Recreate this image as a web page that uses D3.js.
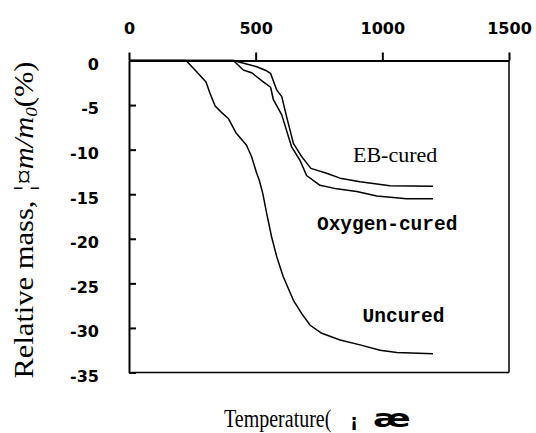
<!DOCTYPE html>
<html>
<head>
<meta charset="utf-8">
<script src="https://cdn.jsdelivr.net/npm/d3@7"></script>
<style>
  body { margin: 0; background: #fff; }
  svg { display: block; }
</style>
</head>
<body>
<div id="chart"></div>
<script>
// 温度 (℃) と質量変化 (%)
var uncuredT = [0, 225, 267, 304, 320, 340, 366, 392, 405, 422, 464, 484, 504, 514, 528, 543, 563, 583, 609, 649, 682, 715, 761, 833, 912, 991, 1057, 1200];
var uncuredM = [0, 0, -1.25, -2.4, -3.7, -5.1, -5.85, -6.5, -7.2, -8.1, -9.5, -10.8, -12.65, -13.4, -14.9, -17.1, -19.8, -22.0, -24.25, -26.9, -28.4, -29.7, -30.6, -31.35, -31.9, -32.5, -32.75, -32.9];

var oxygenT = [0, 412, 451, 484, 530, 559, 570, 603, 642, 675, 701, 754, 820, 899, 978, 1096, 1200];
var oxygenM = [0, 0, -1.07, -1.37, -2.4, -3.0, -4.4, -6.1, -9.7, -11.2, -12.9, -14.0, -14.4, -14.7, -15.2, -15.5, -15.5];

var ebT = [0, 412, 464, 504, 543, 559, 583, 603, 622, 649, 682, 718, 780, 833, 912, 1030, 1200];
var ebM = [0, 0, -0.4, -0.7, -1.15, -1.45, -3.3, -4.05, -6.3, -9.3, -10.8, -12.1, -12.65, -13.2, -13.6, -14.05, -14.1];

var xTicks = [0, 500, 1000, 1500];
var yTicks = [0, -5, -10, -15, -20, -25, -30, -35];

// ラベル (名前, 温度, 質量)
var seriesLabels = [
	{ name: "EB-cured", t: 884, m: -11.42, font: "'Liberation Serif', 'Times New Roman', serif", size: 22, weight: "normal" },
	{ name: "Oxygen-cured", t: 742, m: -19.0, font: "'Liberation Mono', 'Courier New', monospace", size: 19.5, weight: "bold" },
	{ name: "Uncured", t: 922, m: -29.3, font: "'Liberation Mono', 'Courier New', monospace", size: 19.5, weight: "bold" }
];

function draw_chart(id){
	var W = 536, H = 433;
	var pl = 129, pr = 509, pt = 60.5, pb = 372.5;

	var svg = d3.select("#" + id).append("svg")
	.attr("width", W)
	.attr("height", H);

	var x = d3.scaleLinear().domain([0, 1500]).range([pl, pr]);
	var y = d3.scaleLinear().domain([0, -35]).range([pt, pb]);

	// 右・下の枠線
	svg.append("line")
	.attr("x1", pr).attr("y1", pt).attr("x2", pr).attr("y2", pb)
	.style("stroke", "#000").style("stroke-width", 1.5);
	svg.append("line")
	.attr("x1", pl).attr("y1", pb).attr("x2", pr).attr("y2", pb)
	.style("stroke", "#000").style("stroke-width", 1.5);

	// 上の軸
	var gx = svg.append("g")
	.attr("transform", "translate(0," + pt + ")")
	.call(d3.axisTop(x).tickValues(xTicks).tickFormat(d3.format("d")).tickSizeInner(8).tickSizeOuter(0).tickPadding(18.5));

	// 左の軸
	var gy = svg.append("g")
	.attr("transform", "translate(" + pl + ",0)")
	.call(d3.axisLeft(y).tickValues(yTicks).tickFormat(function(d) { return String(d); }).tickSizeInner(-7).tickSizeOuter(0).tickPadding(30));

	[gx, gy].forEach(function(g) {
		g.select(".domain").style("stroke", "#000").style("stroke-width", 2);
		g.selectAll(".tick line").style("stroke", "#000").style("stroke-width", 2);
		g.selectAll(".tick text")
		.style("font-family", "'DejaVu Sans', Verdana, sans-serif")
		.style("font-weight", "bold")
		.style("font-size", "16px")
		.style("fill", "#000");
	});
	gy.selectAll(".tick text").attr("dy", "0.55em");

	// 曲線
	var line = d3.line()
	.x(function(d) { return x(d[0]); })
	.y(function(d) { return y(d[1]); });

	var curves = [
		d3.zip(uncuredT, uncuredM),
		d3.zip(oxygenT, oxygenM),
		d3.zip(ebT, ebM)
	];

	svg.selectAll(".curve")
	.data(curves)
	.enter().append("path")
	.attr("class", "curve")
	.attr("d", line)
	.style("fill", "none")
	.style("stroke", "#000")
	.style("stroke-width", 1.5)
	.style("stroke-linejoin", "round");

	// 曲線ラベル
	svg.selectAll(".slabel")
	.data(seriesLabels)
	.enter().append("text")
	.attr("class", "slabel")
	.attr("x", function(d) { return x(d.t); })
	.attr("y", function(d) { return y(d.m); })
	.text(function(d) { return d.name; })
	.style("font-family", function(d) { return d.font; })
	.style("font-size", function(d) { return d.size + "px"; })
	.style("font-weight", function(d) { return d.weight; })
	.style("fill", "#000");

	// x 軸タイトル
	svg.append("text")
	.attr("transform", "translate(224,427) scale(0.8,1)")
	.style("font-family", "'Liberation Serif', 'Times New Roman', serif")
	.style("font-size", "25px")
	.style("fill", "#000")
	.text("Temperature(");
	svg.append("text")
	.attr("x", 350).attr("y", 427)
	.style("font-family", "'DejaVu Sans', sans-serif")
	.style("font-weight", "bold")
	.style("font-size", "18px")
	.style("fill", "#000")
	.text("¡");
	svg.append("text")
	.attr("transform", "translate(373,427) scale(1.5,1)")
	.style("font-family", "'DejaVu Sans', sans-serif")
	.style("font-weight", "bold")
	.style("font-size", "24px")
	.style("fill", "#000")
	.text("æ");

	// y 軸タイトル
	var yt = svg.append("text")
	.attr("transform", "translate(33,220) rotate(-90) scale(1.13,1)")
	.style("text-anchor", "middle")
	.style("font-family", "'Liberation Serif', 'Times New Roman', serif")
	.style("font-size", "27px")
	.style("fill", "#000");
	yt.append("tspan").text("Relative mass, ");
	yt.append("tspan").style("font-style", "italic").text("¦¤m/m");
	yt.append("tspan").style("font-style", "italic").style("font-size", "17px").attr("dy", "4").text("0");
	yt.append("tspan").attr("dy", "-4").text("(%)");
}

draw_chart("chart");
</script>
</body>
</html>
